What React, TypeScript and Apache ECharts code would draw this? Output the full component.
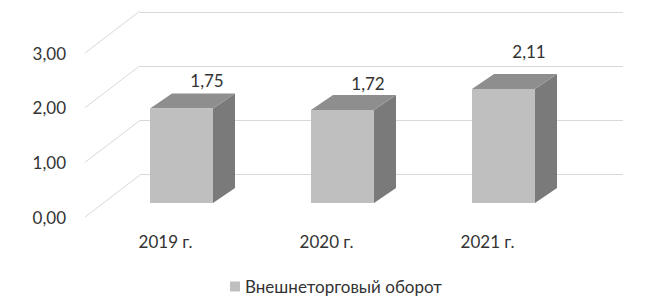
import React, { useEffect, useRef } from "react";
import * as echarts from "echarts";

const categories = ["2019 г.", "2020 г.", "2021 г."];
const values = [1.75, 1.72, 2.11];
const yTicks = [0, 1, 2, 3];
const seriesName = "Внешнеторговый оборот";

const FONT = "Lato, 'Open Sans', sans-serif";
const TEXT = "#333333";
const GRID_LINE = "#d9d9d9";
const FRONT = "#bfbfbf";
const TOP = "#8e8e8e";
const SIDE = "#7a7a7a";

// depth offsets relative to back wall
const WALL_DX = 55;
const WALL_DY = 42;
const BAR_FRONT_DX = 39;
const BAR_FRONT_DY = 29;
const BAR_BACK_DX = 17;
const BAR_BACK_DY = 14;
const HALF = 31.5;
const LABEL_LIFT = [13, 12, 23];

const fmt = (v: number) => v.toFixed(2).replace(".", ",");

export default function App() {
  const ref = useRef<HTMLDivElement>(null);
  useEffect(() => {
    if (!ref.current) return;
    const chart = echarts.init(ref.current, undefined, { renderer: "svg" });
    chart.setOption({
      animation: false,
      textStyle: { fontFamily: FONT },
      grid: [
        { left: 140, right: 30, top: 12, bottom: 124 },
        { left: 85, right: 85, top: 53, bottom: 81 },
      ],
      xAxis: [
        { type: "category", gridIndex: 0, data: categories, show: false },
        {
          type: "category",
          gridIndex: 1,
          data: categories,
          axisLine: { show: false },
          axisTick: { show: false },
          axisLabel: { margin: 16, color: TEXT, fontSize: 17, fontFamily: FONT },
        },
      ],
      yAxis: [
        {
          type: "value",
          gridIndex: 0,
          min: 0,
          max: 3,
          interval: 1,
          axisLabel: { show: false },
          axisLine: { show: false },
          axisTick: { show: false },
          splitLine: { lineStyle: { color: GRID_LINE, width: 1 } },
        },
        {
          type: "value",
          gridIndex: 1,
          min: 0,
          max: 3,
          interval: 1,
          axisLine: { show: false },
          axisTick: { show: false },
          splitLine: { show: false },
          axisLabel: {
            margin: 19,
            color: TEXT,
            fontSize: 17,
            fontFamily: FONT,
            formatter: (v: number) => fmt(v),
          },
        },
      ],
      legend: {
        left: 225,
        top: 273,
        itemWidth: 10,
        itemHeight: 10,
        icon: "rect",
        itemGap: 10,
        textStyle: { color: TEXT, fontSize: 17, fontFamily: FONT },
        data: [seriesName],
      },
      series: [
        {
          type: "custom",
          name: "walls",
          xAxisIndex: 1,
          yAxisIndex: 1,
          silent: true,
          data: yTicks.map((t) => [0, t]),
          renderItem: (params: any, api: any) => {
            const p = api.coord([0, api.value(1)]);
            const x0 = params.coordSys.x;
            return {
              type: "line",
              shape: { x1: x0, y1: p[1], x2: x0 + WALL_DX, y2: p[1] - WALL_DY },
              style: { stroke: GRID_LINE, lineWidth: 1 },
            };
          },
        },
        {
          type: "custom",
          name: seriesName,
          xAxisIndex: 0,
          yAxisIndex: 0,
          itemStyle: { color: FRONT },
          data: values.map((v, i) => [i, v]),
          renderItem: (params: any, api: any) => {
            const idx = api.value(0);
            const v = api.value(1);
            const c0 = api.coord([idx, 0]);
            const c1 = api.coord([idx, v]);
            const cx = c0[0];
            const fl = cx - BAR_FRONT_DX - HALF;
            const fr = cx - BAR_FRONT_DX + HALF;
            const bl = cx - BAR_BACK_DX - HALF;
            const br = cx - BAR_BACK_DX + HALF;
            const fTop = c1[1] + BAR_FRONT_DY;
            const fBot = c0[1] + BAR_FRONT_DY;
            const bTop = c1[1] + BAR_BACK_DY;
            const bBot = c0[1] + BAR_BACK_DY;
            return {
              type: "group",
              children: [
                {
                  type: "polygon",
                  shape: { points: [[fr, fTop], [br, bTop], [br, bBot], [fr, fBot]] },
                  style: { fill: SIDE },
                },
                {
                  type: "polygon",
                  shape: { points: [[fl, fTop], [bl, bTop], [br, bTop], [fr, fTop]] },
                  style: { fill: TOP },
                },
                {
                  type: "rect",
                  shape: { x: fl, y: fTop, width: fr - fl, height: fBot - fTop },
                  style: { fill: FRONT },
                },
                {
                  type: "text",
                  style: {
                    text: fmt(v),
                    x: fl + 57,
                    y: bTop - LABEL_LIFT[params.dataIndex],
                    align: "center",
                    verticalAlign: "middle",
                    fill: TEXT,
                    font: `17px ${FONT}`,
                  },
                },
              ],
            };
          },
        },
      ],
    });
    return () => chart.dispose();
  }, []);
  return (
    <div
      ref={ref}
      style={{ position: "fixed", left: 0, top: 0, width: 653, height: 298, background: "#fff" }}
    />
  );
}
